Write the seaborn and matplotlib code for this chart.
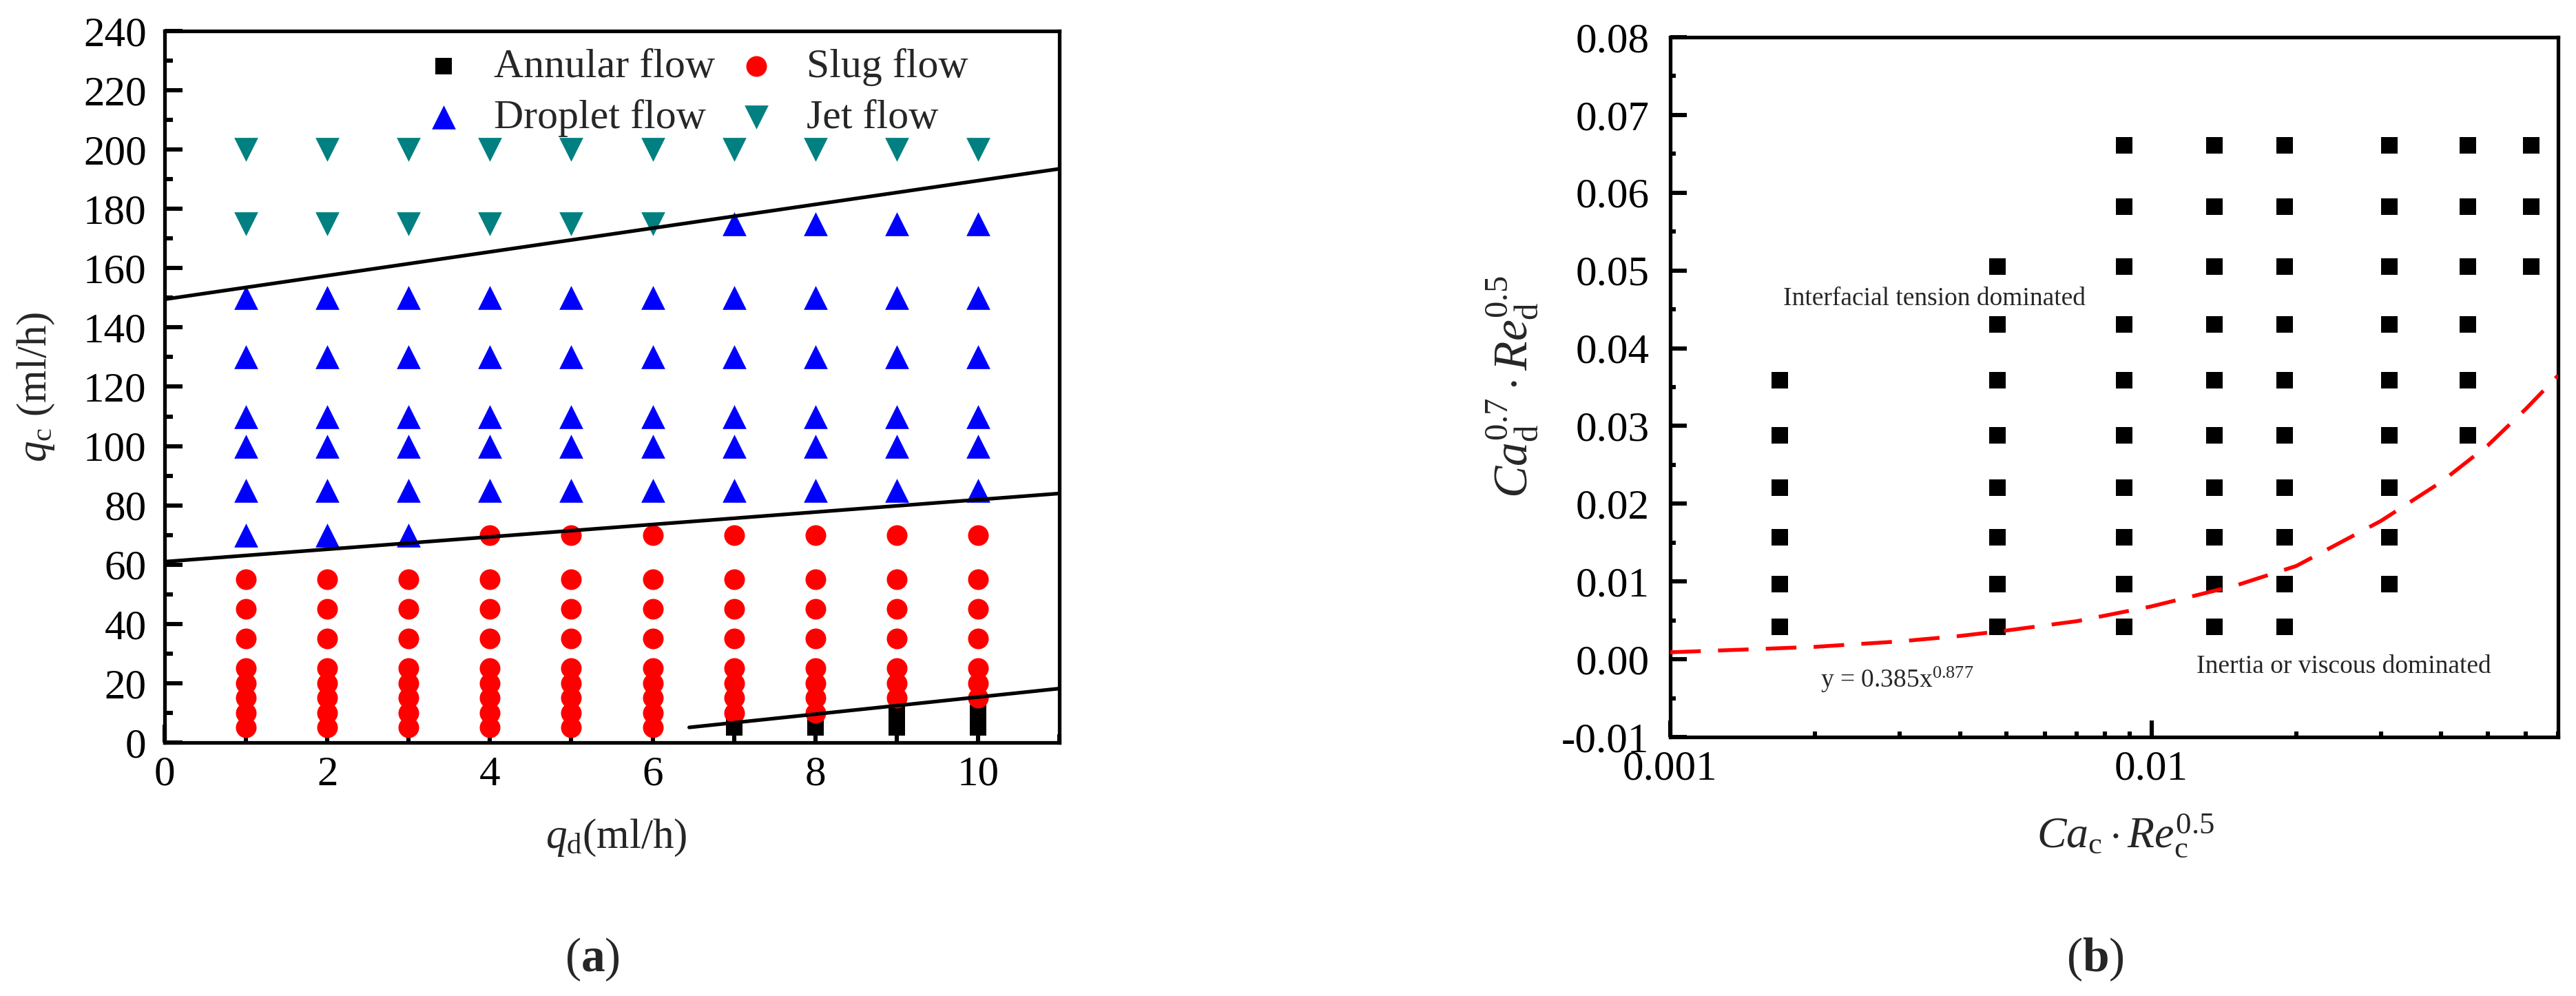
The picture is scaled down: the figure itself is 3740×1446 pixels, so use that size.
import numpy as np
import pandas as pd
import matplotlib
matplotlib.use("Agg")
import matplotlib.pyplot as plt
import seaborn as sns
from matplotlib.ticker import MultipleLocator, LogLocator, NullFormatter

sns.set_theme(style="ticks")
plt.rcParams["font.family"] = ["Liberation Serif", "DejaVu Serif"]
plt.rcParams["font.serif"] = ["Liberation Serif", "DejaVu Serif"]
plt.rcParams["mathtext.fontset"] = "custom"
plt.rcParams["mathtext.rm"] = "Liberation Serif"
plt.rcParams["mathtext.it"] = "Liberation Serif:italic"
plt.rcParams["mathtext.bf"] = "Liberation Serif:bold"
plt.rcParams["axes.unicode_minus"] = False

# ── (a) flow regime map: qc values observed at each qd column ─────────────────
qd_values = [1, 2, 3, 4, 5, 6, 7, 8, 9, 10]

annular_qc = [[], [], [], [], [], [], [5], [5], [5, 10], [5, 10]]
slug_qc = [
    [5, 10, 15, 20, 25, 35, 45, 55],
    [5, 10, 15, 20, 25, 35, 45, 55],
    [5, 10, 15, 20, 25, 35, 45, 55],
    [5, 10, 15, 20, 25, 35, 45, 55, 70],
    [5, 10, 15, 20, 25, 35, 45, 55, 70],
    [5, 10, 15, 20, 25, 35, 45, 55, 70],
    [10, 15, 20, 25, 35, 45, 55, 70],
    [10, 15, 20, 25, 35, 45, 55, 70],
    [15, 20, 25, 35, 45, 55, 70],
    [15, 20, 25, 35, 45, 55, 70],
]
droplet_qc = [
    [70, 85, 100, 110, 130, 150],
    [70, 85, 100, 110, 130, 150],
    [70, 85, 100, 110, 130, 150],
    [85, 100, 110, 130, 150],
    [85, 100, 110, 130, 150],
    [85, 100, 110, 130, 150],
    [85, 100, 110, 130, 150, 175],
    [85, 100, 110, 130, 150, 175],
    [85, 100, 110, 130, 150, 175],
    [85, 100, 110, 130, 150, 175],
]
jet_qc = [[175, 200], [175, 200], [175, 200], [175, 200], [175, 200],
          [175, 200], [200], [200], [200], [200]]

# regime boundaries (end points)
upper_qd, upper_qc = [0, 11], [149.5, 193.5]
middle_qd, middle_qc = [0, 11], [61, 84]
lower_qd, lower_qc = [6.45, 11], [5.1, 18.2]

# ── (b) dimensionless map ─────────────────────────────────────────────────────
cac_values = [0.00169, 0.00478, 0.00877, 0.01352, 0.01892, 0.03126, 0.0455, 0.0616]
cad_values = [
    [0.0042, 0.0097, 0.0157, 0.0221, 0.0288, 0.0359],
    [0.0042, 0.0097, 0.0157, 0.0221, 0.0288, 0.0359, 0.0431, 0.0505],
    [0.0042, 0.0097, 0.0157, 0.0221, 0.0288, 0.0359, 0.0431, 0.0505, 0.0582, 0.0661],
    [0.0042, 0.0097, 0.0157, 0.0221, 0.0288, 0.0359, 0.0431, 0.0505, 0.0582, 0.0661],
    [0.0042, 0.0097, 0.0157, 0.0221, 0.0288, 0.0359, 0.0431, 0.0505, 0.0582, 0.0661],
    [0.0097, 0.0157, 0.0221, 0.0288, 0.0359, 0.0431, 0.0505, 0.0582, 0.0661],
    [0.0288, 0.0359, 0.0431, 0.0505, 0.0582, 0.0661],
    [0.0505, 0.0582, 0.0661],
]
fit_x = [0.001, 0.0015, 0.002, 0.003, 0.004, 0.005, 0.007, 0.01,
         0.015, 0.02, 0.03, 0.04, 0.05, 0.06, 0.07]
fit_y = [0.0009, 0.0013, 0.0016, 0.0023, 0.0030, 0.0037, 0.0049, 0.0068,
         0.0095, 0.0120, 0.0178, 0.0228, 0.0275, 0.0322, 0.0365]
right_yticks = [-0.01, 0.00, 0.01, 0.02, 0.03, 0.04, 0.05, 0.06, 0.07, 0.08]


def to_frame(xs, cols):
    rows = [(x, y) for x, ys in zip(xs, cols) for y in ys]
    return pd.DataFrame(rows, columns=["x", "y"])


fig = plt.figure(figsize=(18.705, 7.23), dpi=200)
ax1 = fig.add_axes([0.0639, 0.2545, 0.3472, 0.7144])
ax2 = fig.add_axes([0.6482, 0.2600, 0.3446, 0.7027])

# ── panel (a) ─────────────────────────────────────────────────────────────────
handles = []
for cols, mk, col, size, lab in [
    (annular_qc, "s", "black", 69, "Annular flow"),
    (slug_qc, "o", "#ff0000", 117, "Slug flow"),
    (droplet_qc, "^", "#0000ff", 156, "Droplet flow"),
    (jet_qc, "v", "#008080", 156, "Jet flow"),
]:
    sns.scatterplot(data=to_frame(qd_values, cols), x="x", y="y", marker=mk,
                    color=col, s=size, linewidth=0, ax=ax1, zorder=3, label=lab,
                    legend=False)
    handles.append(ax1.collections[-1])

for xs, ys in [(upper_qd, upper_qc), (middle_qd, middle_qc), (lower_qd, lower_qc)]:
    sns.lineplot(x=xs, y=ys, color="black", lw=1.9, ax=ax1, zorder=4)

ax1.set_xlim(0, 11)
ax1.set_ylim(0, 240)
ax1.xaxis.set_major_locator(MultipleLocator(2))
ax1.xaxis.set_minor_locator(MultipleLocator(1))
ax1.yaxis.set_major_locator(MultipleLocator(20))
ax1.yaxis.set_minor_locator(MultipleLocator(10))

leg = ax1.legend([handles[0], handles[2], handles[1], handles[3]],
                 ["Annular flow", "Droplet flow", "Slug flow", "Jet flow"],
                 ncol=2, loc="upper left", bbox_to_anchor=(0.289, 0.976),
                 frameon=False, fontsize=21.5, handlelength=1.0,
                 handletextpad=0.72, columnspacing=0.5, labelspacing=0.32,
                 borderpad=0, borderaxespad=0)

ax1.set_xlabel(r"$q_{\mathrm{d}}$(ml/h)", fontsize=22)
ax1.set_ylabel(r"$q_{\mathrm{c}}$ (ml/h)", fontsize=22)
ax1.xaxis.set_label_coords(0.505, -0.105)
ax1.yaxis.set_label_coords(-0.121, 0.5)

# ── panel (b) ─────────────────────────────────────────────────────────────────
sns.scatterplot(data=to_frame(cac_values, cad_values), x="x", y="y", marker="s",
                color="black", s=76, linewidth=0, ax=ax2, zorder=3, legend=False)
sns.lineplot(x=fit_x, y=fit_y, color="#ff0000", lw=2.0,
             linestyle=(0, (8, 4.5)), ax=ax2, zorder=4)

ax2.set_xscale("log")
ax2.set_xlim(0.001, 0.07)
ax2.set_ylim(-0.01, 0.08)
ax2.set_xticks([0.001, 0.01])
ax2.set_xticklabels(["0.001", "0.01"])
ax2.xaxis.set_minor_locator(LogLocator(base=10, subs=np.arange(2, 10), numticks=20))
ax2.xaxis.set_minor_formatter(NullFormatter())
ax2.set_yticks(right_yticks)
ax2.set_yticklabels([f"{t:.2f}" for t in right_yticks])
ax2.yaxis.set_minor_locator(MultipleLocator(0.005))

ax2.text(0.00172, 0.0464, "Interfacial tension dominated", fontsize=13.5,
         ha="left", va="center")
ax2.text(0.01242, -0.0009, "Inertia or viscous dominated", fontsize=13.5,
         ha="left", va="center")
ax2.text(0.00205, -0.0036, r"y = 0.385x$^{\mathrm{0.877}}$", fontsize=13.5,
         ha="left", va="baseline")

ax2.set_xlabel(r"$Ca_{\mathrm{c}}\cdot Re_{\mathrm{c}}^{\mathrm{0.5}}$", fontsize=23)
ax2.set_ylabel(r"$Ca_{\mathrm{d}}^{\mathrm{0.7}}\cdot Re_{\mathrm{d}}^{\mathrm{0.5}}$",
               fontsize=25)
ax2.xaxis.set_label_coords(0.513, -0.108)
ax2.yaxis.set_label_coords(-0.147, 0.5)

# ── shared axis styling ───────────────────────────────────────────────────────
for ax, major, minor, ypad in [(ax1, 9.4, 4.3, 9.5), (ax2, 8.6, 3.0, 11)]:
    for sp in ax.spines.values():
        sp.set_linewidth(1.9)
        sp.set_color("black")
        sp.set_visible(True)
    ax.tick_params(which="both", direction="in", top=False, right=False,
                   width=2.2, color="black", labelsize=22, labelcolor="black",
                   labelfontfamily="Liberation Serif")
    ax.tick_params(which="major", length=major)
    ax.tick_params(which="minor", length=minor)
    ax.tick_params(axis="x", which="both", pad=7)
    ax.tick_params(axis="y", which="both", pad=ypad)
    ax.set_facecolor("white")

fig.text(0.230, 0.0367, r"($\mathbf{a}$)", ha="center", va="center", fontsize=25)
fig.text(0.813, 0.0367, r"($\mathbf{b}$)", ha="center", va="center", fontsize=25)

fig.savefig("out.png", dpi=200, facecolor="white")
